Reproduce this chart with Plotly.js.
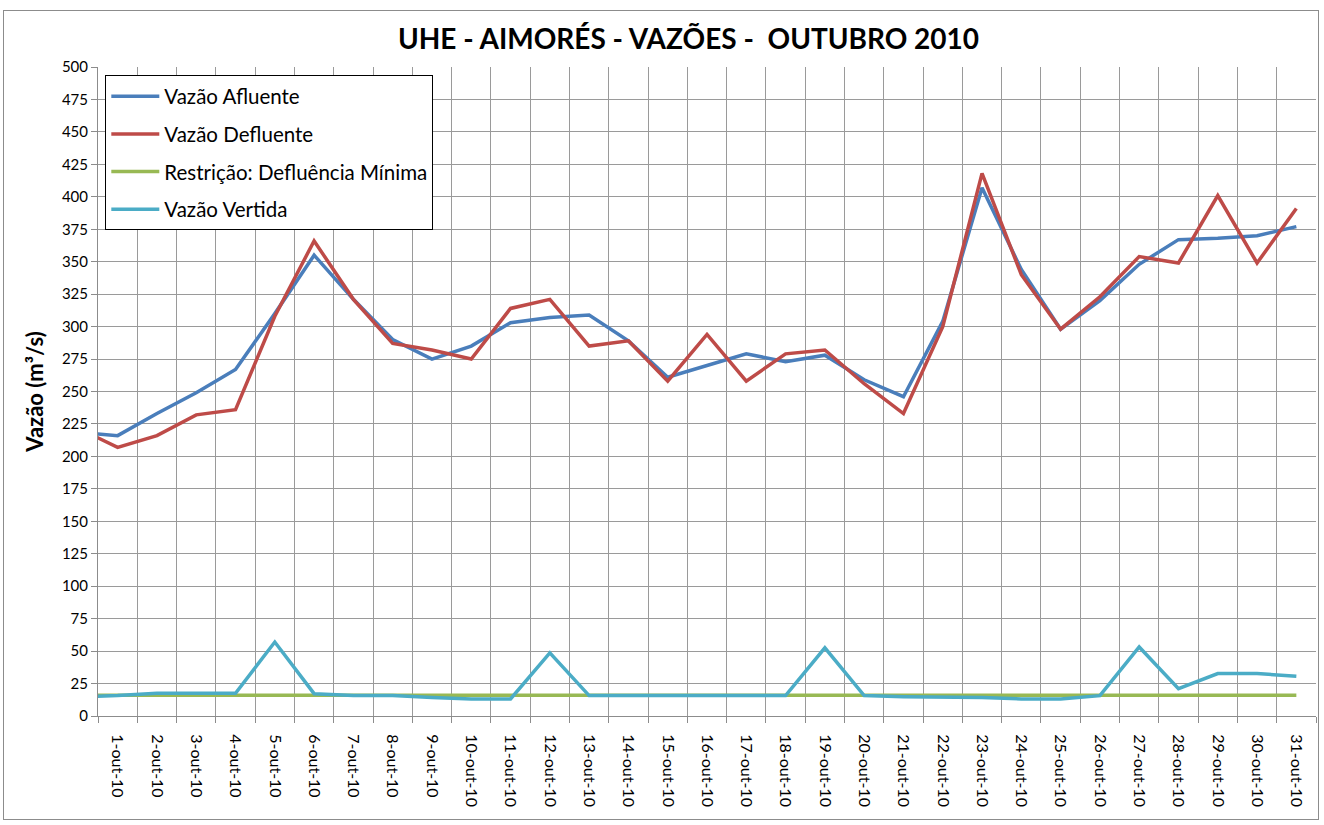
<!DOCTYPE html>
<html>
<head>
<meta charset="utf-8">
<script src="https://cdn.plot.ly/plotly-3.0.1.min.js"></script>
<style>
  html, body { margin: 0; padding: 0; background: #fff; }
  #chart { width: 1324px; height: 825px; }
  #frame { position: absolute; left: 3px; top: 10px; width: 1316px; height: 810px; border: 1px solid #8c8c8c; pointer-events: none; box-sizing: border-box; }
</style>
</head>
<body>
<div id="chart"></div>
<div id="frame"></div>
<script>
// Day before the month (only its line stub shows at the left edge)
const prevDay = "30-set-10";
const days = ["1-out-10","2-out-10","3-out-10","4-out-10","5-out-10","6-out-10","7-out-10","8-out-10","9-out-10","10-out-10",
  "11-out-10","12-out-10","13-out-10","14-out-10","15-out-10","16-out-10","17-out-10","18-out-10","19-out-10","20-out-10",
  "21-out-10","22-out-10","23-out-10","24-out-10","25-out-10","26-out-10","27-out-10","28-out-10","29-out-10","30-out-10","31-out-10"];

const afluentePrev = 218.5;
const afluente = [216, 233, 249, 267, 310, 355, 321, 290, 275, 285, 303, 307, 309, 289, 261, 270, 279, 273, 278, 259,
  246, 304, 407, 344, 298, 320, 348, 367, 368, 370, 377];

const defluentePrev = 221.5;
const defluente = [207, 216, 232, 236, 308, 366, 321, 287, 282, 275, 314, 321, 285, 289, 258, 294, 258, 279, 282, 256,
  233, 300, 418, 340, 298, 323, 354, 349, 401, 349, 391];

const restricaoPrev = 16;
const restricao = [16,16,16,16,16,16,16,16,16,16,16,16,16,16,16,16,16,16,16,16,16,16,16,16,16,16,16,16,16,16,16];

const vertidaPrev = 14.7;
const vertida = [15.7, 17.5, 17.5, 17.5, 57, 17.2, 15.7, 15.7, 14.2, 13.1, 13.1, 48.6, 15.7, 15.7, 15.7, 15.7, 15.7, 15.7, 52.5, 15.7,
  14.9, 14.9, 14.3, 13.1, 13.1, 15.7, 53.2, 21.1, 32.7, 32.7, 30.6];

const yTicks = [];
for (let v = 0; v <= 500; v += 25) yTicks.push(v);

const xs = [prevDay].concat(days);
const font = "Lato, 'Open Sans', sans-serif";

function tr(name, prev, vals, color, group) {
  return {
    type: "scatter", mode: "lines", name: name, x: xs, y: [prev].concat(vals),
    line: { color: color, width: 3.5 }, legendgroup: group, cliponaxis: true
  };
}

const data = [
  tr("Vazão Afluente", afluentePrev, afluente, "#4A7EBB", "a"),
  tr("Vazão Defluente", defluentePrev, defluente, "#BE4B48", "b"),
  tr("Restrição: Defluência Mínima", restricaoPrev, restricao, "#98B954", "c"),
  tr("Vazão Vertida", vertidaPrev, vertida, "#4BACC6", "d")
];

const layout = {
  width: 1324, height: 825,
  margin: { l: 98, r: 8, t: 67, b: 109 },
  paper_bgcolor: "#fff", plot_bgcolor: "#fff",
  font: { family: font, color: "#000", size: 15 },
  title: { text: "<b>UHE - AIMORÉS - VAZÕES -  OUTUBRO 2010</b>", x: 0.52, xanchor: "center", y: 0.952, yanchor: "middle",
    font: { family: font, size: 28, color: "#000" } },
  xaxis: {
    type: "category", range: [0.5, 31.5], tickson: "boundaries",
    tickangle: 90, ticks: "outside", ticklen: 6, tickcolor: "#8c8c8c",
    ticklabelstandoff: 14,
    showgrid: true, gridcolor: "#9a9a9a", gridwidth: 1,
    showline: true, linecolor: "#8c8c8c", linewidth: 1, mirror: false,
    tickfont: { family: font, size: 16, color: "#000" }, fixedrange: true
  },
  yaxis: {
    range: [0, 500], tickvals: yTicks, ticktext: yTicks.map(String),
    ticks: "outside", ticklen: 6, tickcolor: "#8c8c8c",
    showgrid: true, gridcolor: "#9a9a9a", gridwidth: 1, zeroline: false,
    showline: true, linecolor: "#8c8c8c", linewidth: 1,
    tickfont: { family: font, size: 15, color: "#000" },
    title: { text: "<b>Vazão (m³/s)</b>", font: { family: font, size: 22, color: "#000" }, standoff: 12 },
    fixedrange: true
  },
  showlegend: true,
  legend: {
    x: 0.006, y: 0.987, xanchor: "left", yanchor: "top",
    bgcolor: "#fff", bordercolor: "#000", borderwidth: 1,
    font: { family: font, size: 20.5, color: "#000" },
    itemwidth: 48,
    tracegroupgap: 8, traceorder: "grouped"
  }
};

Plotly.newPlot("chart", data, layout, { displayModeBar: false, staticPlot: true });
</script>
</body>
</html>
